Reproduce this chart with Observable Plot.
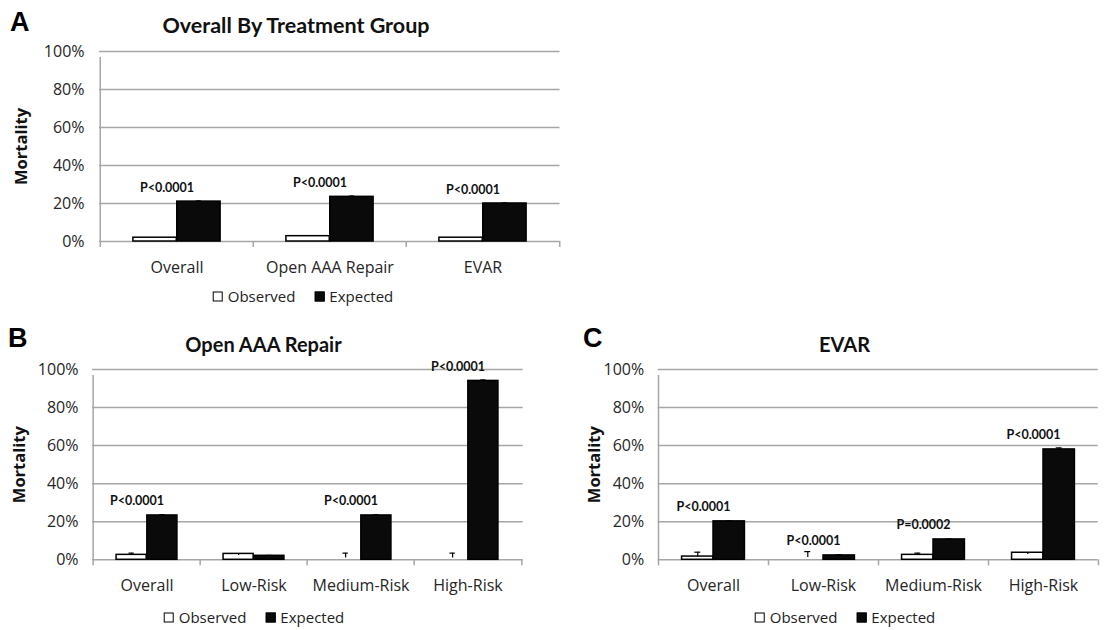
<!DOCTYPE html>
<html><head><meta charset="utf-8">
<script src="https://cdn.jsdelivr.net/npm/d3@7"></script>
<script src="https://cdn.jsdelivr.net/npm/@observablehq/plot@0.6"></script>
<style>
body{margin:0;background:#fff;width:1117px;height:630px;position:relative;overflow:hidden;font-family:"Open Sans",sans-serif;color:#222;}
.abs{position:absolute;}
.letter{font-family:"Liberation Sans",Arial,sans-serif;font-weight:bold;font-size:27px;line-height:27px;color:#000;white-space:nowrap;}
.title{font-family:Lato,sans-serif;font-weight:bold;color:#111;transform:translateX(-50%);white-space:nowrap;}
.legend{display:flex;align-items:center;transform:translate(-50%,-50%);font-size:15px;line-height:15px;color:#222;white-space:nowrap;}
.sw{width:8px;height:8px;border:1.5px solid #000;margin-right:5px;}
.gap{width:19px;}
svg g[aria-label="y-axis label"]{font-family:"Open Sans",sans-serif;font-weight:bold;font-size:16.5px;fill:#111;}
</style></head><body>
<script>
// ---------- data ----------
const yTicks = [0, 20, 40, 60, 80, 100];
const seriesNames = ["Observed", "Expected"];

// Panel A: Overall By Treatment Group
const titleA = "Overall By Treatment Group";
const catsA = ["Overall", "Open AAA Repair", "EVAR"];
const obsA = [2.0, 2.8, 2.0];
const expA = [21.0, 23.5, 20.0];
const obsLoA = [2.0, 2.8, 2.0];
const obsHiA = [2.0, 2.8, 2.0];
const expLoA = [21.0, 23.5, 20.0];
const expHiA = [21.3, 23.9, 20.3];
const pA = ["P<0.0001", "P<0.0001", "P<0.0001"];

// Panel B: Open AAA Repair
const titleB = "Open AAA Repair";
const catsB = ["Overall", "Low-Risk", "Medium-Risk", "High-Risk"];
const obsB = [2.6, 3.1, 0.0, 0.0];
const expB = [23.3, 2.1, 23.3, 94.0];
const obsLoB = [2.6, 2.2, 1.0, 1.0];
const obsHiB = [3.5, 3.1, 3.5, 3.5];
const expLoB = [23.3, 2.1, 23.3, 94.0];
const expHiB = [23.7, 2.3, 23.7, 94.5];
const pB = ["P<0.0001", "", "P<0.0001", "P<0.0001"];

// Panel C: EVAR
const titleC = "EVAR";
const catsC = ["Overall", "Low-Risk", "Medium-Risk", "High-Risk"];
const obsC = [1.7, 0.0, 2.6, 3.7];
const expC = [20.2, 2.3, 10.7, 58.0];
const obsLoC = [1.7, 1.2, 2.6, 2.8];
const obsHiC = [4.0, 4.3, 3.5, 3.7];
const expLoC = [20.2, 2.3, 10.7, 58.0];
const expHiC = [20.4, 2.6, 10.9, 58.8];
const pC = ["P<0.0001", "P<0.0001", "P=0.0002", "P<0.0001"];

// ---------- drawing ----------
function el(tag, cls, css, text) {
  const e = document.createElement(tag);
  if (cls) e.className = cls;
  Object.assign(e.style, css || {});
  if (text != null) e.textContent = text;
  document.body.appendChild(e);
  return e;
}

function panel(d, L) {
  const rows = d.cats.map((c, i) => ({
    cat: c, obs: d.obs[i], exp: d.exp[i],
    obsLo: d.obsLo[i], obsHi: d.obsHi[i], expLo: d.expLo[i], expHi: d.expHi[i], p: d.p[i]
  }));
  const pw = L.width - L.ml - L.mr;
  const bw = pw / d.cats.length;
  const s = bw / 3.5; // Excel gap width 150%
  const grid = "#a6a6a6";
  const capHalf = 3;
  const chart = Plot.plot({
    width: L.width, height: L.height,
    marginLeft: L.ml, marginRight: L.mr, marginTop: L.mt, marginBottom: L.mb,
    style: {fontFamily: "Open Sans, sans-serif", fontSize: "16px", color: "#262626", background: "transparent", overflow: "visible"},
    x: {type: "band", domain: d.cats, padding: 0, axis: null},
    y: {domain: [0, 100], axis: null},
    marks: [
      Plot.gridY(yTicks.slice(1), {stroke: grid, strokeOpacity: 1, strokeWidth: 1.5}),
      Plot.ruleY([0], {stroke: grid, strokeWidth: 1.5}),
      Plot.ruleX(d.cats, {x: v => v, dx: -bw / 2, y1: 0, y2: 0, insetBottom: -6, stroke: grid, strokeWidth: 1.5}),
      Plot.ruleX(d.cats.slice(-1), {x: v => v, dx: bw / 2, y1: 0, y2: 0, insetBottom: -6, stroke: grid, strokeWidth: 1.5}),
      Plot.ruleX(d.cats.slice(0, 1), {x: v => v, dx: -bw / 2, y1: 0, y2: 100, insetBottom: -6, stroke: grid, strokeWidth: 1.5}),
      Plot.axisX({tickSize: 0, tickPadding: 20, fontSize: 16, label: null}),
      Plot.axisY({ticks: yTicks, tickSize: 0, tickPadding: L.tp, tickFormat: v => v + "%", fontSize: 16,
        label: "Mortality", labelAnchor: "center", labelOffset: L.lo, labelArrow: "none"}),
      Plot.barY(rows, {x: "cat", y: "obs", fill: "white", stroke: "#000", strokeWidth: 1.5, insetLeft: 0.75 * s, insetRight: 1.75 * s}),
      Plot.barY(rows, {x: "cat", y: "exp", fill: "#0a0a0a", stroke: "#000", strokeWidth: 1.5, insetLeft: 1.75 * s, insetRight: 0.75 * s}),
      Plot.ruleX(rows, {x: "cat", dx: -0.5 * s, y1: "obsLo", y2: "obsHi", stroke: "#000", strokeWidth: 1.2}),
      Plot.tickY(rows.filter(r => r.obsHi > r.obs), {x: "cat", y: "obsHi", dx: -0.5 * s, insetLeft: bw / 2 - capHalf, insetRight: bw / 2 - capHalf, stroke: "#000", strokeWidth: 1.2}),
      Plot.ruleX(rows, {x: "cat", dx: 0.5 * s, y1: "expLo", y2: "expHi", stroke: "#000", strokeWidth: 1.2}),
      Plot.tickY(rows.filter(r => r.expHi > r.exp), {x: "cat", y: "expHi", dx: 0.5 * s, insetLeft: bw / 2 - capHalf, insetRight: bw / 2 - capHalf, stroke: "#000", strokeWidth: 1.2}),
      Plot.text(rows.filter(r => r.p), {x: "cat", y: "exp", text: "p", dy: -14, dx: -10, fontWeight: "bold", fontSize: 12.5, fontFamily: "Lato, sans-serif", fill: "#111"})
    ]
  });
  chart.style.position = "absolute";
  chart.style.left = L.left + "px";
  chart.style.top = L.top + "px";
  document.body.appendChild(chart);

  el("div", "abs letter", {left: L.letterX + "px", top: L.letterTop + "px"}, L.letter);
  el("div", "abs title", {left: L.titleX + "px", top: L.titleTop + "px", fontSize: L.titleSize + "px", lineHeight: L.titleSize + "px"}, d.title);
  const lg = el("div", "abs legend", {left: L.legX + "px", top: L.legY + "px"});
  seriesNames.forEach((n, i) => {
    if (i > 0) { const g = document.createElement("span"); g.className = "gap"; lg.appendChild(g); }
    const sw = document.createElement("span"); sw.className = "sw";
    sw.style.background = i === 0 ? "#fff" : "#0a0a0a";
    lg.appendChild(sw);
    const t = document.createElement("span"); t.textContent = n; lg.appendChild(t);
  });
}

panel({title: titleA, cats: catsA, obs: obsA, exp: expA, obsLo: obsLoA, obsHi: obsHiA, expLo: expLoA, expHi: expHiA, p: pA},
  {left: 0, top: 30, width: 570, height: 260, ml: 99, mr: 10.5, mt: 21, mb: 49, tp: 15, lo: 84,
   letter: "A", letterX: 10, letterTop: 9, titleX: 296, titleTop: 14.5, titleSize: 21.5, legX: 303, legY: 296});
panel({title: titleB, cats: catsB, obs: obsB, exp: expB, obsLo: obsLoB, obsHi: obsHiB, expLo: expLoB, expHi: expHiB, p: pB},
  {left: 0, top: 330, width: 560, height: 270, ml: 92, mr: 37.3, mt: 39, mb: 40.7, tp: 14, lo: 79,
   letter: "B", letterX: 8, letterTop: 325, titleX: 263.5, titleTop: 334, titleSize: 20, legX: 254, legY: 617});
panel({title: titleC, cats: catsC, obs: obsC, exp: expC, obsLo: obsLoC, obsHi: obsHiC, expLo: expLoC, expHi: expHiC, p: pC},
  {left: 570, top: 330, width: 547, height: 270, ml: 87.7, mr: 19.3, mt: 39, mb: 40.7, tp: 14, lo: 70,
   letter: "C", letterX: 583, letterTop: 325, titleX: 844.5, titleTop: 334, titleSize: 20, legX: 845, legY: 617});
</script>
</body></html>
